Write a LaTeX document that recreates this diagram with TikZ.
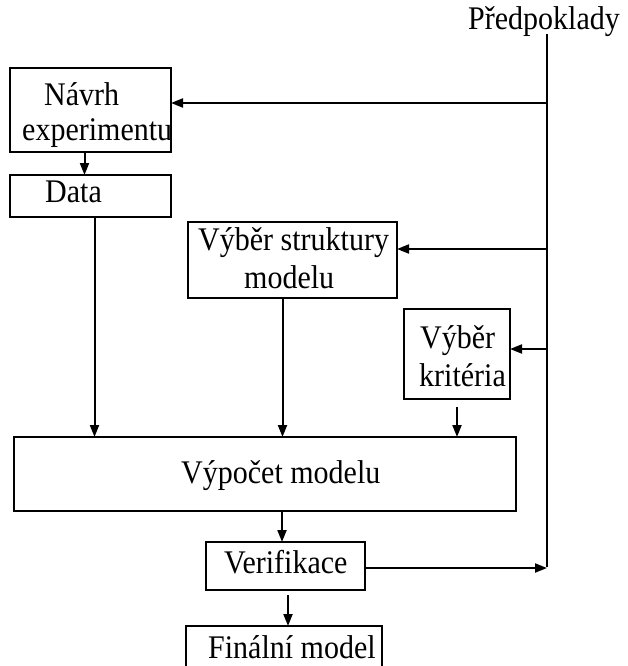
\documentclass[tikz,border=0pt]{standalone}
\usepackage{fontspec}
\setmainfont{Liberation Serif}
\usetikzlibrary{arrows.meta}
\newcommand{\tallt}[1]{\scalebox{1}[1.1]{#1}}
\begin{document}
\begin{tikzpicture}[x=1pt,y=-1pt,
  box/.style={draw,line width=2pt,rectangle,inner sep=0pt,outer sep=0pt},
  txt/.style={inner sep=0pt,anchor=base west,font=\fontsize{30}{36}\selectfont},
  arr/.style={line width=2pt,-{Triangle[length=12pt,width=9pt]}},
  ln/.style={line width=2pt}]
\useasboundingbox (0,0) rectangle (628,666);
\clip (0,0) rectangle (628,666);
% boxes
\node[box,minimum width=161pt,minimum height=84pt] (navrh) at (90.5,110) {};
\node[box,minimum width=161pt,minimum height=42pt] (data) at (90.5,196) {};
\node[box,minimum width=209pt,minimum height=76pt] (str) at (292.5,260) {};
\node[box,minimum width=106pt,minimum height=90pt] (krit) at (457,354) {};
\node[box,minimum width=502pt,minimum height=74pt] (vyp) at (265,474) {};
\node[box,minimum width=159pt,minimum height=48pt] (ver) at (285.5,566) {};
\node[box,minimum width=196pt,minimum height=80pt] (fin) at (284,666) {};
% texts
\node[txt] (p) at (468,30) {\tallt{Předpoklady}};
\node[txt] (t1) at (44,106) {\tallt{Návrh}};
\node[txt] (t2) at (22,140) {\tallt{experimentu}};
\node[txt] (t3) at (45,202) {\tallt{Data}};
\node[txt] (t4) at (198,250) {\tallt{Výběr struktury}};
\node[txt] (t5) at (244,288) {\tallt{modelu}};
\node[txt] (t6) at (420,348) {\tallt{Výběr}};
\node[txt] (t7) at (419,386) {\tallt{kritéria}};
\node[txt] (t8) at (181,483) {\tallt{Výpočet modelu}};
\node[txt] (t9) at (224,573) {\tallt{Verifikace}};
\node[txt] (t10) at (208,658) {\tallt{Finální model}};
% main vertical line
\coordinate (vb) at (547,567);
\draw[ln] ([yshift=3pt]p.south -| vb) -- (vb);
% arrows from the line into boxes
\draw[arr] ([yshift=7pt]navrh.east -| vb) -- ([yshift=7pt]navrh.east);
\draw[arr] ([yshift=11pt]str.east -| vb) -- ([yshift=11pt]str.east);
\draw[arr] ([yshift=5pt]krit.east -| vb) -- ([yshift=5pt]krit.east);
% downward arrows
\draw[arr] ([xshift=-6pt]navrh.south) -- ([xshift=-6pt]data.north);
\draw[arr] ([xshift=4pt]data.south) -- ([xshift=4pt]data.south |- vyp.north);
\draw[arr] ([xshift=-10pt]str.south) -- ([xshift=-10pt]str.south |- vyp.north);
\draw[arr] ([yshift=-8pt]krit.south) -- (krit.south |- vyp.north);
\draw[arr] ([xshift=17pt]vyp.south) -- ([xshift=17pt]vyp.south |- ver.north);
\draw[arr] ([xshift=2.5pt,yshift=-5pt]ver.south) -- ([xshift=4pt]fin.north);
% feedback
\draw[arr] ([yshift=-2pt]ver.east) -- ([yshift=-2pt]ver.east -| vb);
\end{tikzpicture}
\end{document}
